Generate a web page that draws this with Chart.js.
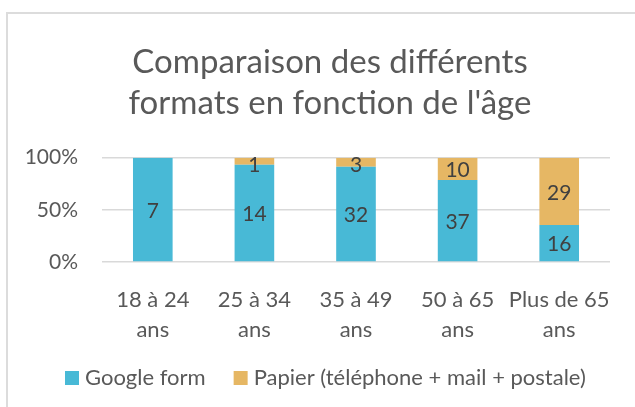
<!DOCTYPE html>
<html><head><meta charset="utf-8">
<script src="https://cdn.jsdelivr.net/npm/chart.js@4/dist/chart.umd.min.js"></script>
<style>
html,body{margin:0;padding:0;background:#fff;overflow:hidden;}
#frame{position:absolute;left:6px;top:12px;width:700px;height:500px;border:2px solid #dcdcdc;box-sizing:border-box;}
#c{position:absolute;left:0;top:0;}
</style></head>
<body>
<div id="frame"></div>
<canvas id="c" width="635" height="407"></canvas>
<script>
const categories = [["18 à 24","ans"],["25 à 34","ans"],["35 à 49","ans"],["50 à 65","ans"],["Plus de 65","ans"]];
const googleForm = [7, 14, 32, 37, 16];
const papier = [0, 1, 3, 10, 29];
const yTicks = [0, 50, 100];
const seriesNames = ["Google form", "Papier (téléphone + mail + postale)"];
const titleLines = ["Comparaison des différents", "formats en fonction de l'âge"];
const seriesColors = ['#48B9D6', '#E6B764'];

const totals = googleForm.map((v,i)=>v+papier[i]);
const pct = arr => arr.map((v,i)=> totals[i] ? v/totals[i]*100 : 0);
const FONT = "Lato, 'Open Sans', sans-serif";
const TEXT = '#595959';

const labelPlugin = {
  id:'segLabels',
  afterDatasetsDraw(chart){
    const ctx = chart.ctx;
    const raw = [googleForm, papier];
    ctx.save();
    ctx.font = "21px " + FONT;
    ctx.fillStyle = "#404040";
    ctx.textAlign = "center";
    ctx.textBaseline = "middle";
    chart.data.datasets.forEach((ds, di)=>{
      const meta = chart.getDatasetMeta(di);
      meta.data.forEach((el, i)=>{
        const v = raw[di][i];
        if (!v) return;
        let y = (el.y + el.base)/2;
        y = Math.max(y, chart.chartArea.top + 6);
        ctx.fillText(String(v), el.x, y + 1.5);
      });
    });
    ctx.restore();
  }
};

const titlePlugin = {
  id:'customTitle',
  afterDraw(chart){
    const ctx = chart.ctx;
    ctx.save();
    ctx.font = "33px " + FONT;
    ctx.fillStyle = TEXT;
    ctx.textAlign = "center";
    ctx.textBaseline = "middle";
    titleLines.forEach((t, i)=> ctx.fillText(t, 330, 62 + i*41));
    ctx.restore();
  }
};

const legendPlugin = {
  id:'customLegend',
  afterDraw(chart){
    const ctx = chart.ctx;
    ctx.save();
    ctx.font = "22px " + FONT;
    ctx.textBaseline = "middle";
    ctx.textAlign = "left";
    let x = 65;
    const y = 378;
    chart.data.datasets.forEach((ds, i)=>{
      ctx.fillStyle = ds.backgroundColor;
      ctx.fillRect(x, y-7, 14, 14);
      ctx.fillStyle = TEXT;
      ctx.fillText(ds.label, x + 20, y);
      x += 20 + ctx.measureText(ds.label).width + 28;
    });
    ctx.restore();
  }
};

new Chart(document.getElementById('c'), {
  type:'bar',
  data:{
    labels: categories,
    datasets:[
      {label: seriesNames[0], data: pct(googleForm), backgroundColor:seriesColors[0], borderWidth:0},
      {label: seriesNames[1], data: pct(papier), backgroundColor:seriesColors[1], borderWidth:0}
    ]
  },
  options:{
    responsive:false,
    animation:false,
    layout:{padding:{left:0,right:25,top:157.7,bottom:65}},
    datasets:{bar:{categoryPercentage:1, barPercentage:0.39}},
    plugins:{
      title:{display:false},
      legend:{display:false},
      tooltip:{enabled:false}
    },
    scales:{
      x:{stacked:true, grid:{display:false}, border:{display:false},
        afterFit(s){ s.height = 80; },
        ticks:{color:TEXT, font:{family:FONT, size:22, lineHeight:1.36}, padding:15, maxRotation:0, autoSkip:false}},
      y:{stacked:true, min:0, max:100,
        afterBuildTicks(s){ s.ticks = yTicks.map(v=>({value:v})); },
        afterFit(s){ s.width = 102; },
        grid:{color:'#d9d9d9', lineWidth:1.5, drawTicks:false},
        border:{display:false},
        ticks:{color:TEXT, font:{family:FONT, size:21}, padding:24, callback:v=>v+'%'}}
    }
  },
  plugins:[labelPlugin, titlePlugin, legendPlugin]
});
</script>
</body></html>
